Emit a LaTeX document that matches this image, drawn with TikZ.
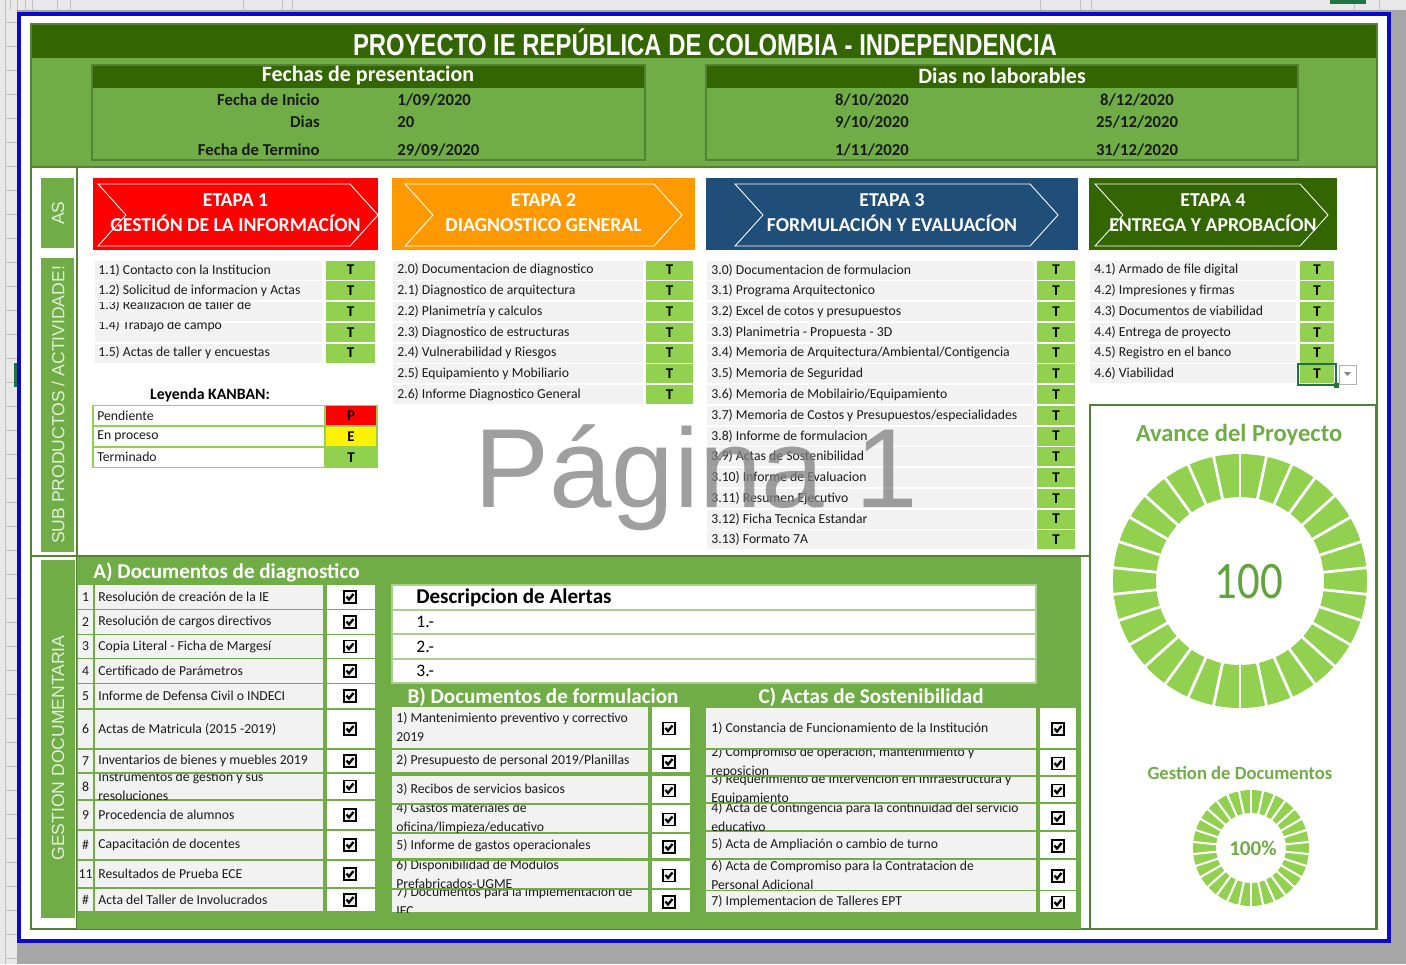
\documentclass[tikz,border=0pt]{standalone}
\usepackage{fontspec}
\setmainfont{Carlito}
\newfontfamily\titulofont[FakeStretch=0.79]{Liberation Sans}
\newfontfamily\ladofont{Liberation Sans}
\newfontfamily\cienfont[FakeStretch=0.85]{Carlito}
\newfontfamily\marcafont{Liberation Sans}

\definecolor{verdeosc}{HTML}{336600}
\definecolor{verde}{HTML}{70AD47}
\definecolor{verdeborde}{HTML}{548235}
\definecolor{verdeT}{HTML}{92D050}
\definecolor{verdeclaro}{HTML}{A9D08E}
\definecolor{verdepalido}{HTML}{E2EFDA}
\definecolor{verdeexcel}{HTML}{217346}
\definecolor{verdenum}{HTML}{62A33E}
\definecolor{gris}{HTML}{F2F2F2}
\definecolor{grisfondo}{HTML}{A6A6A6}
\definecolor{gristira}{HTML}{E8E8E8}
\definecolor{azul}{HTML}{0A0AC8}
\definecolor{naranja}{HTML}{FF9900}
\definecolor{azulE}{HTML}{1F4E79}
\definecolor{tinta}{HTML}{1A1A1A}

\tikzset{casilla/.pic={
  \draw[line width=0.8pt,fill=gray!12] (-6,-6) rectangle (6,6);
  \draw[line width=1.3pt] (-3.5,-0.5) -- (-1,2.5) -- (3.5,-3);
}}

\begin{document}
\begin{tikzpicture}[x=0.02cm,y=-0.02cm,
  fila/.style={anchor=west,inner sep=0pt,text=tinta,align=left,font=\fontsize{7.8}{10.8}\selectfont},
  tletra/.style={inner sep=0pt,text=black,font=\bfseries\fontsize{8.5}{9}\selectfont},
  num/.style={inner sep=0pt,text=tinta,font=\fontsize{7.8}{9}\selectfont},
  etapa/.style={text=white,align=center,font=\bfseries\fontsize{11.2}{14.2}\selectfont},
  cabeza/.style={text=white,font=\bfseries\fontsize{12.5}{13}\selectfont},
  dato/.style={inner sep=0pt,text=tinta,font=\bfseries\fontsize{9.5}{10}\selectfont},
  seccion/.style={inner sep=0pt,text=white,font=\bfseries\fontsize{12}{13}\selectfont},
  lado/.style={rotate=90,text=verdepalido,font=\ladofont\fontsize{10}{11}\selectfont},
  alerta/.style={anchor=west,inner sep=0pt,text=black,font=\fontsize{10}{11}\selectfont},
  marca/.style={anchor=base west,inner sep=0pt,text=gray,text opacity=0.75,font=\marcafont\fontsize{64}{64}\selectfont},
  avance/.style={text=verde,font=\bfseries\fontsize{14}{15}\selectfont}]
\useasboundingbox (0,0) rectangle (1406,964);

% hoja de calculo
\fill[grisfondo] (0,0) rectangle (1406,964);
\fill[gristira] (0,0) rectangle (1406,10);
\fill[gristira] (0,0) rectangle (17,964);
\foreach \y in {22,46,...,960} \draw[gray!50] (5,\y) -- (17,\y);
\draw[gray!50] (5,0) -- (5,964);
\foreach \x in {10,17,25,32,57,70,243,282,292,1040,1080,1091,1354,1379} \draw[gray!50] (\x,0) -- (\x,10);
\fill[verdeexcel] (1330,0) rectangle (1366,4);
\fill[verdeexcel] (14,363) rectangle (17,387);

% marco azul
\draw[azul,line width=2.3pt,fill=white] (19,14) rectangle (1389,941);

% titulo y fechas
\fill[verdeosc] (31,24) rectangle (1377,58);
\fill[verde] (31,58) rectangle (1377,166);
\node[text=white,font=\titulofont\bfseries\fontsize{17.2}{18}\selectfont] (titulo) at (705,42) {PROYECTO IE REPÚBLICA DE COLOMBIA - INDEPENDENCIA};

\fill[verdeosc] (92,65) rectangle (645,88);
\draw[verdeborde,line width=1.5pt] (92,65) rectangle (645,160);
\node[cabeza] (fechas) at (368,76) {Fechas de presentacion};
\node[dato,anchor=east] (inicio) at (320,100) {Fecha de Inicio};
\node[dato,anchor=east] (dias) at (320,122) {Dias};
\node[dato,anchor=east] (termino) at (320,150) {Fecha de Termino};
\node[dato,anchor=west] (vinicio) at (397,100) {1/09/2020};
\node[dato,anchor=west] (vdias) at (397,122) {20};
\node[dato,anchor=west] (vtermino) at (397,150) {29/09/2020};

\fill[verdeosc] (706,65) rectangle (1298,88);
\draw[verdeborde,line width=1.5pt] (706,65) rectangle (1298,160);
\node[cabeza] (nolab) at (1002,76) {Dias no laborables};
\node[dato] (d1) at (872,100) {8/10/2020};
\node[dato] (d2) at (872,122) {9/10/2020};
\node[dato] (d3) at (872,150) {1/11/2020};
\node[dato] (d4) at (1137,100) {8/12/2020};
\node[dato] (d5) at (1137,122) {25/12/2020};
\node[dato] (d6) at (1137,150) {31/12/2020};

% marcos verdes
\draw[verdeborde,line width=1.2pt] (31,24) rectangle (1377,929);
\draw[verdeborde,line width=1.2pt] (31,167) -- (1377,167);
\draw[verdeborde,line width=1.2pt] (77,167) -- (77,929);
\draw[verdeborde,line width=1.2pt] (31,556) -- (1090,556);
\fill[verde] (41,178) rectangle (74,248);
\fill[verde] (41,258) rectangle (74,552);
\fill[verde] (41,560) rectangle (75,918);
\node[lado] (as) at (58,213) {AS};
\node[lado] (sub) at (58,405) {SUB PRODUCTOS / ACTIVIDADE!};
\node[lado] (gestdoc) at (58,748) {GESTION DOCUMENTARIA};

% etapas
\foreach \xa/\xb/\xl/\xp/\col/\n/\nom in {
  93/378/98/378/red/1/{GESTIÓN DE LA INFORMACÍON},
  392/695/405/682/naranja/2/{DIAGNOSTICO GENERAL},
  706/1078/735/1058/azulE/3/{FORMULACIÓN Y EVALUACÍON},
  1089/1337/1095/1328/verdeosc/4/{ENTREGA Y APROBACÍON}}{
  \fill[\col] (\xa,178) rectangle (\xb,250);
  \draw[white,line width=0.5pt] (\xl,184) -- (\xp-28,184) -- (\xp,215) -- (\xp-28,246) -- (\xl,246) -- (\xl+28,215) -- cycle;
  \node[etapa] (etapa\n) at ({(\xa+\xb)/2},213) {ETAPA \n\\\nom};
}

% etapa 1
\foreach \i in {1,...,5}{
  \pgfmathsetmacro\yc{270+20.75*(\i-1)}
  \fill[gris] (95,\yc-9.5) rectangle (322,\yc+9.5);
  \fill[verdeT] (326,\yc-9.5) rectangle (375,\yc+9.5);
  \node[tletra] (e1t\i) at (350.5,\yc) {T};
}
\node[fila] (e1l1) at (98,270) {1.1) Contacto con la Institucion};
\node[fila] (e1l2) at (98,290.75) {1.2) Solicitud de informacion y Actas};
\begin{scope}
  \clip (95,302) rectangle (322,321);
  \node[fila] (e1l3) at (98,305) {1.3) Realizacion de taller de};
\end{scope}
\begin{scope}
  \clip (95,322.75) rectangle (322,341.75);
  \node[fila] (e1l4) at (98,325.5) {1.4) Trabajo de campo};
\end{scope}
\node[fila] (e1l5) at (98,353) {1.5) Actas de taller y encuestas};

% etapa 2
\foreach \t [count=\i] in {{2.0) Documentacion de diagnostico},{2.1) Diagnostico de arquitectura},
  {2.2) Planimetría y calculos},{2.3) Diagnostico de estructuras},{2.4) Vulnerabilidad y Riesgos},
  {2.5) Equipamiento y Mobiliario},{2.6) Informe Diagnostico General}}{
  \pgfmathsetmacro\yc{270+20.75*(\i-1)}
  \fill[gris] (393,\yc-9.5) rectangle (643,\yc+9.5);
  \fill[verdeT] (646,\yc-9.5) rectangle (693,\yc+9.5);
  \node[fila] (e2l\i) at (397,\yc) {\t};
  \node[tletra] (e2t\i) at (669.5,\yc) {T};
}

% etapa 3
\foreach \t [count=\i] in {{3.0) Documentacion de formulacion},{3.1) Programa Arquitectonico},
  {3.2) Excel de cotos y presupuestos},{3.3) Planimetria - Propuesta - 3D},
  {3.4) Memoria de Arquitectura/Ambiental/Contigencia},{3.5) Memoria de Seguridad},
  {3.6) Memoria de Mobilairio/Equipamiento},{3.7) Memoria de Costos y Presupuestos/especialidades},
  {3.8) Informe de formulacion},{3.9) Actas de Sostenibilidad},{3.10) Informe de Evaluacion},
  {3.11) Resumen Ejecutivo},{3.12) Ficha Tecnica Estandar},{3.13) Formato 7A}}{
  \pgfmathsetmacro\yc{270+20.75*(\i-1)}
  \fill[gris] (707,\yc-9.5) rectangle (1034,\yc+9.5);
  \fill[verdeT] (1037,\yc-9.5) rectangle (1075,\yc+9.5);
  \node[fila] (e3l\i) at (711,\yc) {\t};
  \node[tletra] (e3t\i) at (1056,\yc) {T};
}

% etapa 4
\foreach \t [count=\i] in {{4.1) Armado de file digital},{4.2) Impresiones y firmas},
  {4.3) Documentos de viabilidad},{4.4) Entrega de proyecto},{4.5) Registro en el banco},{4.6) Viabilidad}}{
  \pgfmathsetmacro\yc{270+20.75*(\i-1)}
  \fill[gris] (1090,\yc-9.5) rectangle (1296,\yc+9.5);
  \fill[verdeT] (1300,\yc-9.5) rectangle (1334,\yc+9.5);
  \node[fila] (e4l\i) at (1094,\yc) {\t};
  \node[tletra] (e4t\i) at (1317,\yc) {T};
}
\draw[verdeexcel,line width=1.3pt] (1298,364) rectangle (1336,385);
\fill[verdeexcel] (1334,383) rectangle (1339,388);
\draw[gray!60,fill=white] (1339,365) rectangle (1356,384);
\fill[gray] (1344,372) -- (1351,372) -- (1347.5,376) -- cycle;

% leyenda
\node[font=\bfseries\fontsize{9}{10}\selectfont] (kanban) at (210,395) {Leyenda KANBAN:};
\foreach \t/\c/\l [count=\i] in {Pendiente/red/P,En proceso/yellow/E,Terminado/verdeT/T}{
  \pgfmathsetmacro\yc{395+20.75*\i}
  \draw[verdeT,line width=0.8pt,fill=white] (93,\yc-10) rectangle (325,\yc+10);
  \draw[verdeT,line width=0.8pt,fill=\c] (325,\yc-10) rectangle (377,\yc+10);
  \node[fila] (ley\i) at (97,\yc) {\t};
  \node[tletra] (leyc\i) at (351,\yc) {\l};
}

% pagina
\node[marca] (pagina) at (474,507) {Página 1};

% gestion documentaria
\fill[verde] (77,557) rectangle (1081,929);
\node[seccion,anchor=west] (secA) at (93,572) {A) Documentos de diagnostico};
\foreach \ya/\yb/\nu/\t [count=\i] in {585/609/1/{Resolución de creación de la IE},
  610/634/2/{Resolución de cargos directivos},635/658/3/{Copia Literal - Ficha de Margesí},
  659/683/4/{Certificado de Parámetros},684/708/5/{Informe de Defensa Civil o INDECI},
  710/748/6/{Actas de Matricula (2015 -2019)},750/772/7/{Inventarios de bienes y muebles 2019},
  774/799/8/{Instrumentos de gestion y sus\\resoluciones},801/829/9/{Procedencia de alumnos},
  831/859/{\#}/{Capacitación de docentes},861/887/11/{Resultados de Prueba ECE},
  889/911/{\#}/{Acta del Taller  de Involucrados}}{
  \fill[gris] (78,\ya) rectangle (93,\yb);
  \fill[gris] (95,\ya) rectangle (323,\yb);
  \fill[white] (327,\ya) rectangle (375,\yb);
  \node[num] (an\i) at (85.5,{(\ya+\yb)/2}) {\nu};
  \begin{scope}
    \clip (95,\ya) rectangle (323,\yb);
    \node[fila] (a\i) at (98,{(\ya+\yb)/2}) {\t};
  \end{scope}
  \pic (ca\i) at (350,{(\ya+\yb)/2}) {casilla};
}

% alertas
\draw[verdeclaro,line width=1.2pt,fill=white] (392,585) rectangle (1036,683);
\foreach \y in {610,634,659} \draw[verdeclaro,line width=1.2pt] (392,\y) -- (1036,\y);
\node[anchor=west,inner sep=0pt,font=\bfseries\fontsize{12}{13}\selectfont] (alertas) at (416,598) {Descripcion de Alertas};
\node[alerta] (al1) at (416,622) {1.-};
\node[alerta] (al2) at (416,646.5) {2.-};
\node[alerta] (al3) at (416,671) {3.-};

% documentos de formulacion
\node[seccion] (secB) at (543,697) {B) Documentos de formulacion};
\foreach \ya/\yb/\t [count=\i] in {707/748/{1) Mantenimiento preventivo y correctivo\\2019},
  750/772/{2) Presupuesto de personal 2019/Planillas},776/803/{3) Recibos de servicios basicos},
  805/832/{4) Gastos materiales de\\oficina/limpieza/educativo},834/858/{5) Informe de gastos operacionales},
  861/888/{6) Disponibilidad de Modulos\\Prefabricados-UGME},890/912/{7) Documentos para la implementacion de\\IEC}}{
  \fill[gris] (392,\ya) rectangle (648,\yb);
  \fill[white] (652,\ya) rectangle (690,\yb);
  \begin{scope}
    \clip (392,\ya) rectangle (648,\yb);
    \node[fila] (b\i) at (396,{(\ya+\yb)/2}) {\t};
  \end{scope}
  \pic (cb\i) at (669,{(\ya+\yb)/2+1}) {casilla};
}

% actas de sostenibilidad
\node[seccion] (secC) at (871,697) {C) Actas de Sostenibilidad};
\foreach \ya/\yb/\t [count=\i] in {708/748/{1) Constancia de Funcionamiento de la Institución},
  750/775/{2) Compromiso de operacion, mantenimiento y\\reposicion},
  777/802/{3) Requerimiento de Intervencion en Infraestructura y\\Equipamiento},
  804/830/{4) Acta de Contingencia para la continuidad del servicio\\educativo},
  832/858/{5) Acta de Ampliación o cambio de turno},
  860/890/{6) Acta de Compromiso para la Contratacion de\\Personal Adicional},
  891/912/{7) Implementacion de Talleres EPT}}{
  \fill[gris] (706,\ya) rectangle (1036,\yb);
  \fill[white] (1040,\ya) rectangle (1076,\yb);
  \begin{scope}
    \clip (706,\ya) rectangle (1036,\yb);
    \node[fila] (c\i) at (711,{(\ya+\yb)/2}) {\t};
  \end{scope}
  \pic (cc\i) at (1058,{(\ya+\yb)/2+1}) {casilla};
}

% avance del proyecto
\draw[verdeborde,line width=1.5pt,fill=white] (1090,405) rectangle (1376,929);
\node[avance] (avance) at (1239,435) {Avance del Proyecto};
\begin{scope}[shift={(1240,581)}]
  \fill[verdeT,even odd rule] (0,0) circle (127) (0,0) circle (84);
  \foreach \k in {0,...,29} \draw[white,line width=1.6pt] (\k*12+6:82) -- (\k*12+6:129);
\end{scope}
\node[text=verdenum,font=\cienfont\fontsize{30}{30}\selectfont] (cien) at (1249,582) {100};
\node[text=verde,font=\bfseries\fontsize{10.6}{11}\selectfont] (gestion) at (1240,773) {Gestion de Documentos};
\begin{scope}[shift={(1251,848)}]
  \fill[verdeT,even odd rule] (0,0) circle (58) (0,0) circle (35);
  \foreach \k in {0,...,29} \draw[white,line width=1.2pt] (\k*12+6:33) -- (\k*12+6:60);
\end{scope}
\node[text=verde,font=\bfseries\fontsize{12}{13}\selectfont] (porc) at (1253,848) {100\%};
\end{tikzpicture}
\end{document}
